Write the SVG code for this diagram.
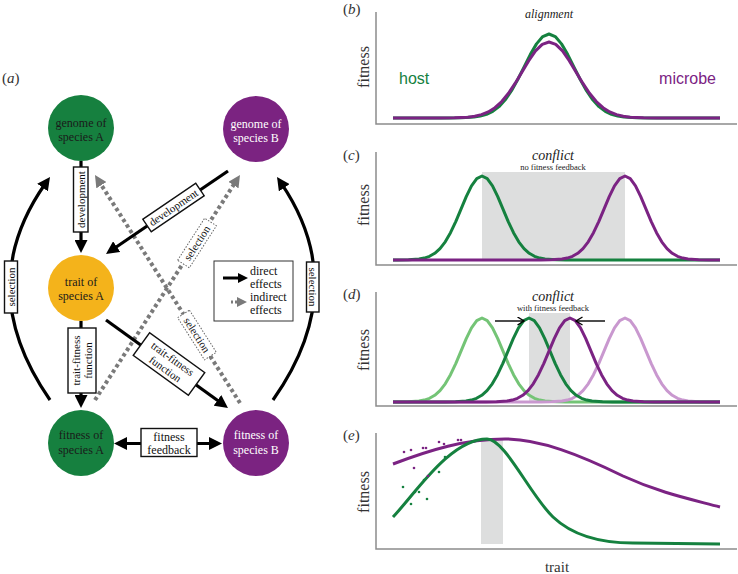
<svg xmlns="http://www.w3.org/2000/svg" xmlns:xlink="http://www.w3.org/1999/xlink" width="738" height="574" viewBox="0 0 738 574">
<style>
text{font-family:"Liberation Serif","Times New Roman",serif;}
.node{font-size:12px;text-anchor:middle;}
.dk{fill:#1a1a1a;}
.wt{fill:#ffffff;}
.lbl{font-size:11px;text-anchor:middle;fill:#111;}
.lbl12{font-size:12px;text-anchor:middle;fill:#111;}
.box{fill:#fff;stroke:#111;stroke-width:1.4;}
.dbox{fill:#fff;stroke:#666;stroke-width:1;stroke-dasharray:1.5 1.5;}
.solid{fill:none;stroke:#000;stroke-width:3.2;}
.dot{fill:none;stroke:#7a7a7a;stroke-width:4;stroke-dasharray:3.5 3;}
.axis{fill:none;stroke:#8c8c8c;stroke-width:1.5;}
.cv{fill:none;stroke-width:3;stroke-linejoin:round;}
.g{stroke:#15813f;}
.p{stroke:#7b2383;}
.lg{stroke:#74c476;}
.lp{stroke:#c998cf;}
.ylab{font-size:16px;text-anchor:middle;fill:#333;}
.plab{font-size:15px;fill:#333;}
.shade{fill:#dddede;}
.leg{font-size:12px;fill:#111;}
.sans{font-family:"Liberation Sans",Arial,sans-serif;font-size:16px;}
</style>
<defs>
<marker id="ah" markerUnits="userSpaceOnUse" markerWidth="13" markerHeight="13" refX="5" refY="6.5" orient="auto-start-reverse" viewBox="0 0 13 13"><path d="M0,0 L13,6.5 L0,13 z" fill="#000"/></marker>
<marker id="gh" markerUnits="userSpaceOnUse" markerWidth="12" markerHeight="12" refX="3" refY="6" orient="auto" viewBox="0 0 12 12"><path d="M0,0 L12,6 L0,12 z" fill="#7a7a7a"/></marker>
<marker id="ahs" markerUnits="userSpaceOnUse" markerWidth="10" markerHeight="10" refX="3" refY="5" orient="auto" viewBox="0 0 10 10"><path d="M0,0 L10,5 L0,10 z" fill="#000"/></marker>
<marker id="ghs" markerUnits="userSpaceOnUse" markerWidth="10" markerHeight="10" refX="3" refY="5" orient="auto" viewBox="0 0 10 10"><path d="M0,0 L10,5 L0,10 z" fill="#7a7a7a"/></marker>
<marker id="chev" markerUnits="userSpaceOnUse" markerWidth="9" markerHeight="10" refX="7" refY="4.5" orient="auto" viewBox="0 0 9 10"><path d="M0.5,0.5 L7,4.5 L0.5,8.5" fill="none" stroke="#000" stroke-width="1.4"/></marker>
<path id="gauss" vector-effect="non-scaling-stroke" d="M-40,0 L-4,-0.0003 L-3.5,-0.0022 L-3,-0.0111 L-2.75,-0.0228 L-2.5,-0.0439 L-2.25,-0.0796 L-2,-0.1353 L-1.75,-0.2163 L-1.5,-0.3247 L-1.25,-0.4578 L-1,-0.6065 L-0.75,-0.7548 L-0.5,-0.8825 L-0.25,-0.9692 L0,-1 L0.25,-0.9692 L0.5,-0.8825 L0.75,-0.7548 L1,-0.6065 L1.25,-0.4578 L1.5,-0.3247 L1.75,-0.2163 L2,-0.1353 L2.25,-0.0796 L2.5,-0.0439 L2.75,-0.0228 L3,-0.0111 L3.5,-0.0022 L4,-0.0003 L40,0"/>
<clipPath id="clipX" clipPathUnits="userSpaceOnUse"><rect x="393" y="0" width="327" height="574"/></clipPath>
</defs>

<!-- panel (a) label -->
<text x="2" y="83" class="plab"><tspan>(</tspan><tspan font-style="italic">a</tspan><tspan>)</tspan></text>

<!-- connectors -->
<g id="connectors">
  <!-- selection arcs -->
  <path class="solid" d="M50,400 Q-28,288 45.4,183.5" marker-end="url(#ah)"/>
  <path class="solid" d="M273,400 Q352,288 281.5,183.6" marker-end="url(#ah)"/>
  <rect class="box" x="4.5" y="261" width="13" height="52"/>
  <text class="lbl" transform="translate(14.8,287) rotate(-90)">selection</text>
  <rect class="box" x="306.5" y="262" width="12.5" height="50"/>
  <text class="lbl" transform="translate(309.2,287) rotate(90)">selection</text>

  <!-- indirect selection (dotted) -->
  <line class="dot" x1="95" y1="400" x2="235.1" y2="182.6" marker-end="url(#gh)"/>
  <line class="dot" x1="240" y1="403" x2="99.8" y2="182.6" marker-end="url(#gh)"/>
  <g transform="translate(197,243) rotate(-57.2)">
    <rect class="dbox" x="-25" y="-7" width="50" height="14"/>
    <text class="lbl" x="0" y="3.8">selection</text>
  </g>
  <g transform="translate(197,335) rotate(57.5)">
    <rect class="dbox" x="-25" y="-7" width="50" height="14"/>
    <text class="lbl" x="0" y="3.8">selection</text>
  </g>

  <!-- development A -->
  <line class="solid" x1="81" y1="161" x2="81" y2="245" marker-end="url(#ah)"/>
  <rect class="box" x="73.5" y="167" width="14.5" height="65"/>
  <text class="lbl" transform="translate(84.6,199.5) rotate(-90)">development</text>

  <!-- development B -->
  <line class="solid" x1="228" y1="171" x2="112.6" y2="249.5" marker-end="url(#ah)"/>
  <g transform="translate(173.5,207.5) rotate(-34.2)">
    <rect class="box" x="-32" y="-7.5" width="64" height="15"/>
    <text class="lbl" x="0" y="3.8">development</text>
  </g>

  <!-- trait-fitness A -->
  <line class="solid" x1="81" y1="321" x2="81" y2="400" marker-end="url(#ah)"/>
  <rect class="box" x="68" y="328" width="28" height="65"/>
  <g transform="translate(82,360.5) rotate(-90)">
    <text class="lbl" x="0" y="-2.5">trait-fitness</text>
    <text class="lbl" x="0" y="10">function</text>
  </g>

  <!-- trait-fitness B -->
  <line class="solid" x1="106" y1="320" x2="221.5" y2="403.3" marker-end="url(#ah)"/>
  <g transform="translate(169,364) rotate(35.8)">
    <rect class="box" x="-34" y="-14" width="68" height="28"/>
    <text class="lbl" x="0" y="-2.5">trait-fitness</text>
    <text class="lbl" x="0" y="10">function</text>
  </g>

  <!-- fitness feedback -->
  <line class="solid" x1="122" y1="443.5" x2="214" y2="443.5" marker-start="url(#ah)" marker-end="url(#ah)"/>
  <rect class="box" x="141" y="428.5" width="56" height="28"/>
  <text class="lbl12" x="169" y="440.5">fitness</text>
  <text class="lbl12" x="169" y="453.5">feedback</text>
</g>

<!-- nodes -->
<g id="genomeA">
  <circle cx="81" cy="128" r="33" fill="#16803f"/>
  <text class="node dk" x="81" y="127">genome of</text>
  <text class="node dk" x="81" y="141">species A</text>
</g>
<g id="genomeB">
  <circle cx="256" cy="129" r="33" fill="#7b2381"/>
  <text class="node wt" x="256" y="128">genome of</text>
  <text class="node wt" x="256" y="142">species B</text>
</g>
<g id="traitA">
  <circle cx="81" cy="288" r="33" fill="#f4b31b"/>
  <text class="node dk" x="81" y="286">trait of</text>
  <text class="node dk" x="81" y="300">species A</text>
</g>
<g id="fitnessA">
  <circle cx="81" cy="443" r="33" fill="#16803f"/>
  <text class="node dk" x="81" y="439">fitness of</text>
  <text class="node dk" x="81" y="454">species A</text>
</g>
<g id="fitnessB">
  <circle cx="256" cy="443" r="33" fill="#7b2381"/>
  <text class="node wt" x="256" y="439">fitness of</text>
  <text class="node wt" x="256" y="454">species B</text>
</g>

<!-- legend -->
<g id="legend">
  <rect x="214" y="261" width="79" height="60" fill="#fff" stroke="#333" stroke-width="1"/>
  <line x1="223" y1="278" x2="241" y2="278" stroke="#000" stroke-width="3" marker-end="url(#ahs)"/>
  <line x1="231" y1="302" x2="240" y2="302" stroke="#7a7a7a" stroke-width="3" stroke-dasharray="2 2" marker-end="url(#ghs)"/>
  <text x="250" y="274.5" class="leg">direct</text>
  <text x="250" y="287.5" class="leg">effects</text>
  <text x="250" y="300.5" class="leg">indirect</text>
  <text x="250" y="314" class="leg">effects</text>
</g>

<!-- panel (b) -->
<g id="panelB">
  <text x="343" y="14" class="plab">(<tspan font-style="italic">b</tspan>)</text>
  <text x="549" y="18" font-size="12" font-style="italic" text-anchor="middle" fill="#222">alignment</text>
  <text class="ylab" transform="translate(369,67) rotate(-90)">fitness</text>
  <path class="axis" d="M376,12 V124 H737"/>
  <text x="399" y="84" class="sans" fill="#15813f">host</text>
  <text x="716" y="84" class="sans" fill="#7b2383" text-anchor="end">microbe</text>
  <g clip-path="url(#clipX)">
    <use xlink:href="#gauss" class="cv g" transform="translate(549,118) scale(25,84)"/>
    <use xlink:href="#gauss" class="cv p" transform="translate(549,118) scale(27,76)"/>
  </g>
</g>

<!-- panel (c) -->
<g id="panelC">
  <text x="343" y="160" class="plab">(<tspan font-style="italic">c</tspan>)</text>
  <rect class="shade" x="482" y="172" width="143" height="87"/>
  <text x="553" y="160" font-size="14" font-style="italic" text-anchor="middle" fill="#222">conflict</text>
  <text x="553" y="169.5" font-size="8.5" text-anchor="middle" fill="#222">no fitness feedback</text>
  <text class="ylab" transform="translate(369,205) rotate(-90)">fitness</text>
  <path class="axis" d="M376,152 V265 H737"/>
  <g clip-path="url(#clipX)">
    <use xlink:href="#gauss" class="cv g" transform="translate(482,260) scale(21,84)"/>
    <use xlink:href="#gauss" class="cv p" transform="translate(625,260) scale(21,84)"/>
  </g>
</g>

<!-- panel (d) -->
<g id="panelD">
  <text x="343" y="299" class="plab">(<tspan font-style="italic">d</tspan>)</text>
  <rect class="shade" x="529" y="313" width="41" height="89"/>
  <text x="553" y="301" font-size="14" font-style="italic" text-anchor="middle" fill="#222">conflict</text>
  <text x="553" y="311" font-size="8.5" text-anchor="middle" fill="#222">with fitness feedback</text>
  <text class="ylab" transform="translate(369,350) rotate(-90)">fitness</text>
  <path class="axis" d="M376,292 V406 H737"/>
  <g clip-path="url(#clipX)">
    <use xlink:href="#gauss" class="cv lg" transform="translate(482,402) scale(21,84)"/>
    <use xlink:href="#gauss" class="cv lp" transform="translate(625,402) scale(21,84)"/>
    <use xlink:href="#gauss" class="cv g" transform="translate(529,402) scale(21,84)"/>
    <use xlink:href="#gauss" class="cv p" transform="translate(570,402) scale(21,84)"/>
  </g>
  <line x1="495" y1="321" x2="524" y2="321" stroke="#000" stroke-width="1.4" marker-end="url(#chev)"/>
  <line x1="605" y1="321" x2="576" y2="321" stroke="#000" stroke-width="1.4" marker-end="url(#chev)"/>
</g>

<!-- panel (e) -->
<g id="panelE">
  <text x="343" y="440" class="plab">(<tspan font-style="italic">e</tspan>)</text>
  <rect class="shade" x="481" y="439" width="22" height="105"/>
  <text class="ylab" transform="translate(369,492) rotate(-90)">fitness</text>
  <path class="axis" d="M376,433 V549 H737"/>
  <path class="cv p" d="M393,464 C430,450 465,439 505,439 C540,439 580,455 623,476 C660,493 690,499 720,507"/>
  <path class="cv g" d="M393,517 C415,494 450,439 487,439 C505,439 530,495 553,517 C572,535 600,543 633,543 L720,544"/>
  <g fill="#7b2383">
    <circle cx="404" cy="452" r="1.3"/><circle cx="411" cy="450" r="1.3"/><circle cx="423" cy="448" r="1.3"/><circle cx="426" cy="448" r="1.3"/>
    <circle cx="439" cy="442" r="1.3"/><circle cx="444" cy="444" r="1.3"/><circle cx="458" cy="440" r="1.3"/><circle cx="461" cy="440" r="1.3"/>
    <circle cx="414" cy="468" r="1.3"/><circle cx="428" cy="476" r="1.3"/>
  </g>
  <g fill="#15813f">
    <circle cx="403" cy="487" r="1.3"/><circle cx="411" cy="504" r="1.3"/><circle cx="415" cy="492" r="1.3"/><circle cx="419" cy="492" r="1.3"/>
    <circle cx="427" cy="499" r="1.3"/><circle cx="424" cy="480" r="1.3"/><circle cx="439" cy="472" r="1.3"/><circle cx="445" cy="457" r="1.3"/>
  </g>
  <text x="557" y="572" font-size="15" text-anchor="middle" fill="#333">trait</text>
</g>
</svg>
